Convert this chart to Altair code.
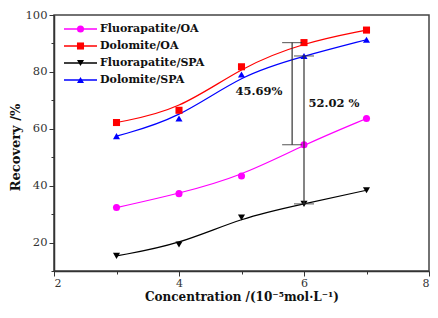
import altair as alt
import pandas as pd

conc = [3, 4, 5, 6, 7]
series_names = ["Fluorapatite/OA", "Dolomite/OA", "Fluorapatite/SPA", "Dolomite/SPA"]
fa_oa = [32.3, 37.2, 43.4, 54.4, 63.6]
do_oa = [62.2, 66.5, 81.8, 90.3, 94.7]
fa_spa = [15.3, 19.3, 28.8, 33.6, 38.4]
do_spa = [57.4, 63.6, 79.1, 85.6, 91.3]
colors = ["#FF00FF", "#FF0000", "#000000", "#0000FF"]
shapes = ["circle", "square", "triangle-down", "triangle-up"]

bar_x = [5.81, 6.0]
bar_low = [54.4, 33.6]
bar_high = [90.3, 85.6]
ann_x = [5.28, 6.48]
ann_y = [72.8, 68.7]
ann_text = ["45.69%", "52.02 %"]

rows = []
for name, vals in zip(series_names, [fa_oa, do_oa, fa_spa, do_spa]):
    for c, v in zip(conc, vals):
        rows.append({"series": name, "conc": c, "rec": v})
df = pd.DataFrame(rows)
bars = pd.DataFrame({"x": bar_x, "lo": bar_low, "hi": bar_high})
ann = pd.DataFrame({"x": ann_x, "y": ann_y, "t": ann_text})
leg = pd.DataFrame({"series": series_names})

FONT = "DejaVu Serif"
xs = alt.Scale(domain=[2, 8], nice=False, zero=False)
ys = alt.Scale(domain=[10, 100], nice=False, zero=False)
cs = alt.Scale(domain=series_names, range=colors)
ss = alt.Scale(domain=series_names, range=shapes)

main_x_axis = alt.Axis(values=[2, 4, 6, 8], tickSize=5, labelPadding=1, grid=False,
                       title="Concentration /(10⁻⁵mol·L⁻¹)", titleFontSize=12, titleFontWeight="bold",
                       titleFont=FONT, labelFont=FONT, labelFontSize=11, titlePadding=3, orient="bottom")
main_y_axis = alt.Axis(values=[20, 40, 60, 80, 100], tickSize=5, labelPadding=2, grid=False,
                       title="Recovery /%", titleFontSize=13, titleFontWeight="bold", titleY=132,
                       titleFont=FONT, labelFont=FONT, labelFontSize=11.5, titlePadding=3, orient="left")
minor_x_axis = alt.Axis(values=[3, 5, 7], tickSize=3, labels=False, domain=False, grid=False, title=None, orient="bottom")
minor_y_axis = alt.Axis(values=[10, 30, 50, 70, 90], tickSize=3, labels=False, domain=False, grid=False, title=None, orient="left")

axes_main = alt.Chart(df).mark_point(opacity=0).encode(
    x=alt.X("conc:Q", scale=xs, axis=main_x_axis),
    y=alt.Y("rec:Q", scale=ys, axis=main_y_axis))
axes_minor = alt.Chart(df).mark_point(opacity=0).encode(
    x=alt.X("conc:Q", scale=xs, axis=minor_x_axis),
    y=alt.Y("rec:Q", scale=ys, axis=minor_y_axis))

lines = alt.Chart(df).mark_line(interpolate="basis", strokeWidth=1.2).encode(
    x=alt.X("conc:Q", scale=xs, axis=None),
    y=alt.Y("rec:Q", scale=ys, axis=None),
    color=alt.Color("series:N", scale=cs, legend=None),
    detail="series:N")
points = alt.Chart(df).mark_point(filled=True, size=50, opacity=1).encode(
    x=alt.X("conc:Q", scale=xs, axis=None),
    y=alt.Y("rec:Q", scale=ys, axis=None),
    color=alt.Color("series:N", scale=cs, legend=None),
    shape=alt.Shape("series:N", scale=ss, legend=None))

vrules = alt.Chart(bars).mark_rule(color="#333", strokeWidth=1.2).encode(
    x=alt.X("x:Q", scale=xs, axis=None),
    y=alt.Y("lo:Q", scale=ys, axis=None), y2="hi:Q")
cap_lo = alt.Chart(bars).mark_tick(orient="horizontal", size=20, thickness=1.2, color="#333").encode(
    x=alt.X("x:Q", scale=xs, axis=None), y=alt.Y("lo:Q", scale=ys, axis=None))
cap_hi = alt.Chart(bars).mark_tick(orient="horizontal", size=20, thickness=1.2, color="#333").encode(
    x=alt.X("x:Q", scale=xs, axis=None), y=alt.Y("hi:Q", scale=ys, axis=None))
anns = alt.Chart(ann).mark_text(font=FONT, fontSize=11.5, fontWeight="bold", color="#111").encode(
    x=alt.X("x:Q", scale=xs, axis=None), y=alt.Y("y:Q", scale=ys, axis=None), text="t:N")

ly = alt.Y("series:N", scale=alt.Scale(type="point", domain=series_names, range=[14, 65], padding=0), axis=None)
leg_lines = alt.Chart(leg).mark_rule(strokeWidth=1.4).encode(
    x=alt.value(10), x2=alt.value(43), y=ly,
    color=alt.Color("series:N", scale=cs, legend=None))
leg_pts = alt.Chart(leg).mark_point(filled=True, size=50, opacity=1).encode(
    x=alt.value(26.5), y=ly,
    color=alt.Color("series:N", scale=cs, legend=None),
    shape=alt.Shape("series:N", scale=ss, legend=None))
leg_text = alt.Chart(leg).mark_text(align="left", baseline="middle", font=FONT, fontSize=11,
                                    fontWeight="bold", color="#111").encode(
    x=alt.value(46), y=ly, text="series:N")

chart = alt.layer(axes_main, axes_minor, lines, points, vrules, cap_lo, cap_hi, anns,
                  leg_lines, leg_pts, leg_text).resolve_scale(
    y="independent").resolve_axis(x="independent", y="independent").properties(
    width=375, height=256,
    autosize=alt.AutoSizeParams(type="none"),
    padding={"left": 46, "top": 7, "right": 1, "bottom": 37},
).configure_view(stroke="#444", strokeWidth=1.5).configure_axis(
    domainColor="#333", tickColor="#333", labelColor="#333", titleColor="#111", domainWidth=1.5)

chart.save("out.html", embed_options={"renderer": "svg", "actions": False})
